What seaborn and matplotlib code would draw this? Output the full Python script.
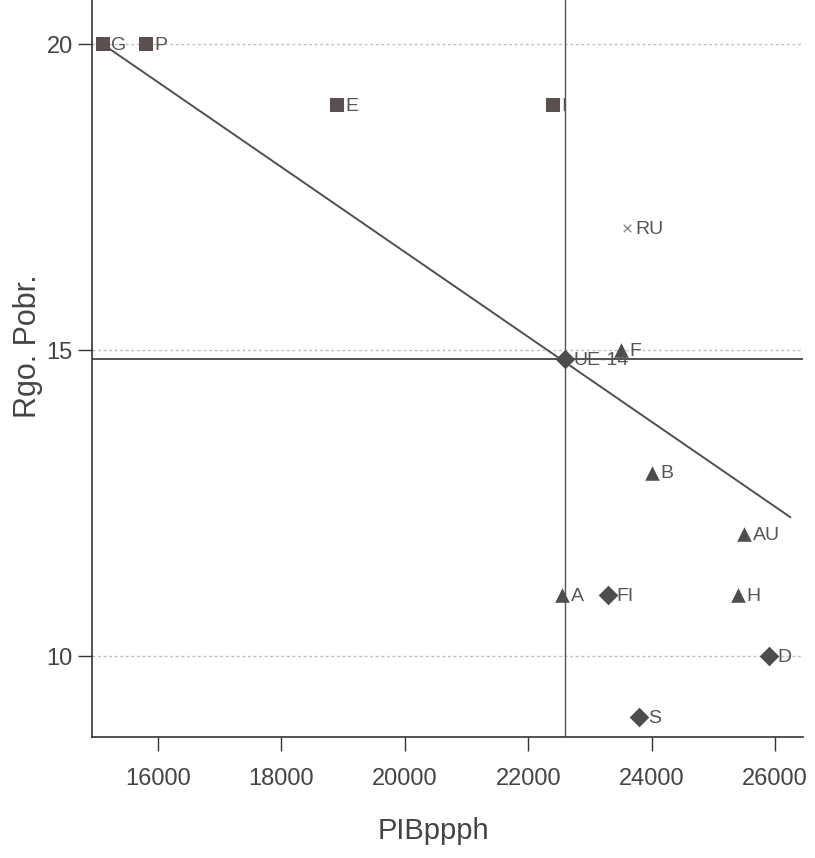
import numpy as np
import pandas as pd
import seaborn as sns
import matplotlib.pyplot as plt

# Values
countries = ["G", "P", "E", "I", "RU", "UE-14", "F", "B", "AU", "A", "FI", "H", "D", "S"]
pib = [15100, 15800, 18900, 22400, 23600, 22600, 23500, 24000, 25500, 22550, 23300, 25400, 25900, 23800]
rgo = [20, 20, 19, 19, 17, 14.85, 15, 13, 12, 11, 11, 11, 10, 9]
group = ["sq", "sq", "sq", "sq", "x", "dia", "tri", "tri", "tri", "tri", "dia", "tri", "dia", "dia"]

# fitted line drawn in the original
line_x = [15100, 26250]
line_y = [20, 12.27]

# reference lines (UE-14 mean)
mean_x = 22600
mean_y = 14.85

df = pd.DataFrame({"PIBppph": pib, "Rgo. Pobr.": rgo, "grp": group, "pais": countries})

sns.set_style("white")
plt.rcParams["font.family"] = ["Liberation Sans Narrow", "Liberation Sans", "DejaVu Sans"]

fig = plt.figure(figsize=(8.15, 8.58), dpi=100)
ax = fig.add_axes([0.113, 0.141, 0.872, 0.859])

gray = "#4d4d4d"

# faint dotted gridlines at tick levels
for yv in [20, 15, 10]:
    ax.axhline(yv, color="#bdbdbd", lw=1, ls=(0, (2, 2)), zorder=0)

ax.axvline(mean_x, color="#555555", lw=1, zorder=1)
ax.axhline(mean_y, color="#444444", lw=1.3, zorder=1)
sns.lineplot(x=line_x, y=line_y, ax=ax, color="#505050", lw=1.4, zorder=2)

styles = {"sq": ("s", "#5a5050", 90), "x": ("x", "#8a8a8a", 30),
          "dia": ("D", gray, 100), "tri": ("^", gray, 110)}
for g, (mk, col, sz) in styles.items():
    sub = df[df["grp"] == g]
    lw = 1 if mk == "x" else 0
    sns.scatterplot(data=sub, x="PIBppph", y="Rgo. Pobr.", marker=mk, color=col,
                    s=sz, linewidth=lw, legend=False, ax=ax, zorder=3)

for name, xv, yv in zip(countries, pib, rgo):
    ax.annotate(name, (xv, yv), xytext=(6, -1), textcoords="offset points",
                ha="left", va="center", fontsize=14, color="#555555")

ax.set_xlim(14930, 26450)
ax.set_ylim(8.68, 20.72)
ax.set_xticks([16000, 18000, 20000, 22000, 24000, 26000])
ax.set_yticks([10, 15, 20])
ax.tick_params(axis="both", labelsize=17, colors="#333333", length=10, width=1,
               direction="out", left=True, bottom=True, labelcolor="#444444")
ax.tick_params(axis="x", pad=12)
ax.tick_params(axis="y", pad=4)

for side in ["top", "right"]:
    ax.spines[side].set_visible(False)
for side in ["left", "bottom"]:
    ax.spines[side].set_color("#333333")
    ax.spines[side].set_linewidth(1.2)

ax.set_xlabel("PIBppph", fontsize=21, color="#444444")
ax.set_ylabel("Rgo. Pobr.", fontsize=22, color="#444444")
ax.xaxis.set_label_coords(0.48, -0.108)
ax.yaxis.set_label_coords(-0.069, 0.53)

fig.savefig("out.png", dpi=100)
